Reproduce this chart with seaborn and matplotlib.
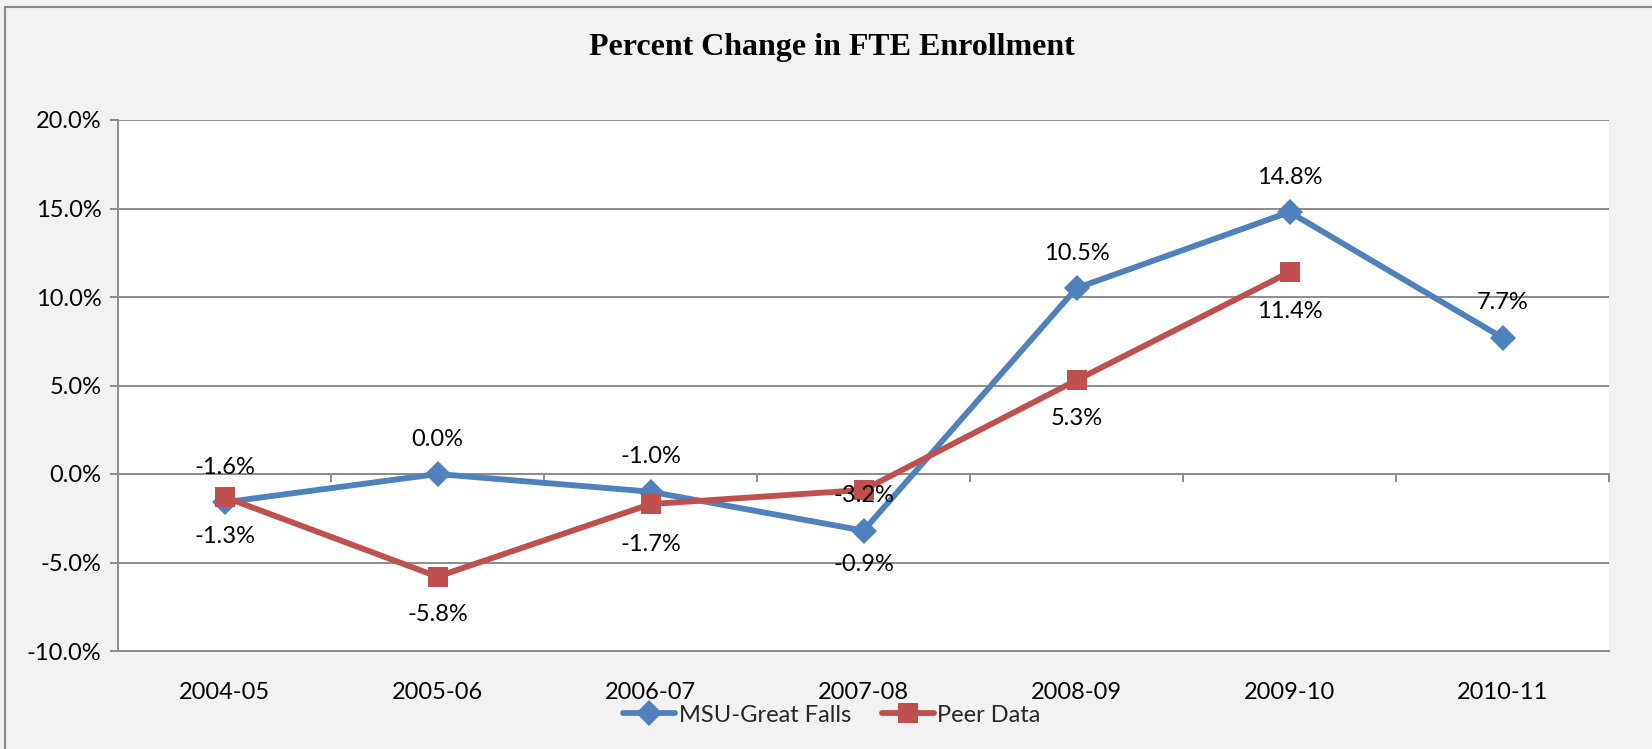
import matplotlib
matplotlib.use("Agg")
import matplotlib.pyplot as plt
from matplotlib.patches import Rectangle
from matplotlib.ticker import FuncFormatter
import pandas as pd
import seaborn as sns

years = ["2004-05", "2005-06", "2006-07", "2007-08", "2008-09", "2009-10", "2010-11"]
msu_great_falls = [-1.6, 0.0, -1.0, -3.2, 10.5, 14.8, 7.7]
peer_data = [-1.3, -5.8, -1.7, -0.9, 5.3, 11.4]
series_names = ["MSU-Great Falls", "Peer Data"]
y_ticks = [-10, -5, 0, 5, 10, 15, 20]

BLUE = "#4F81BD"
RED = "#C0504D"
GRID = "#8C8C8C"
BG = "#F2F2F2"
FS = 17

rows = [(y, series_names[0], v) for y, v in zip(years, msu_great_falls)]
rows += [(y, series_names[1], v) for y, v in zip(years, peer_data)]
df = pd.DataFrame(rows, columns=["Year", "Series", "Change"])

sns.set_theme(style="white")
plt.rcParams["font.family"] = ["Lato", "DejaVu Sans"]

fig = plt.figure(figsize=(16.52, 7.49), dpi=100, facecolor=BG)
ax = fig.add_axes([118 / 1652, 1 - 651 / 749, (1609 - 118) / 1652, (651 - 120) / 749])
ax.set_facecolor("white")

sns.lineplot(
    data=df, x="Year", y="Change", hue="Series", style="Series",
    hue_order=series_names, style_order=series_names,
    palette={series_names[0]: BLUE, series_names[1]: RED},
    markers={series_names[0]: "D", series_names[1]: "s"},
    dashes=False, sort=False, linewidth=4.2, markersize=13,
    markeredgewidth=0, ax=ax, legend=False, zorder=3,
)
for ln, ms in zip(ax.lines[:2], [13, 15]):
    ln.set_markersize(ms)
series_lines = list(ax.lines[:2])

# axes limits, grid and spines
ax.set_xlim(-0.5, len(years) - 0.5)
ax.set_ylim(y_ticks[0], y_ticks[-1])
ax.set_yticks(y_ticks)
ax.yaxis.set_major_formatter(FuncFormatter(lambda v, _: f"{v:.1f}%"))
ax.grid(axis="y", color=GRID, linewidth=1.4)
ax.set_axisbelow(True)
for side in ["top", "right"]:
    ax.spines[side].set_visible(False)
ax.spines["left"].set_color(GRID)
ax.spines["left"].set_linewidth(1.4)
ax.spines["bottom"].set_color(GRID)
ax.spines["bottom"].set_linewidth(1.4)
ax.tick_params(axis="y", which="major", length=6, width=1.4, color=GRID,
               labelsize=FS, labelcolor="black", pad=6, left=True)
ax.tick_params(axis="x", which="major", length=0, labelsize=FS,
               labelcolor="black", pad=22)
ax.set_xlabel("")
ax.set_ylabel("")

# category axis crossing at zero, with tick marks between categories
zero_frac = (0 - y_ticks[0]) / (y_ticks[-1] - y_ticks[0])
cat_axis = ax.secondary_xaxis(zero_frac)
cat_axis.set_xticks([i - 0.5 for i in range(len(years) + 1)])
cat_axis.set_xticklabels([])
cat_axis.tick_params(axis="x", direction="out", length=6, width=1.4, color=GRID)
cat_axis.spines["bottom"].set_color(GRID)
cat_axis.spines["bottom"].set_linewidth(1.4)

# value labels: MSU above its points, peers below
px = 72 / 100
blue_offsets = [-35] * len(msu_great_falls)
red_offsets = [39, 38, 40, 75, 38, 39]
for i, (v, off) in enumerate(zip(msu_great_falls, blue_offsets)):
    ax.annotate(f"{v:.1f}%", (i, v), xytext=(0, -off * px), textcoords="offset points",
                ha="center", va="center", fontsize=FS, color="black", zorder=5)
for i, (v, off) in enumerate(zip(peer_data, red_offsets)):
    ax.annotate(f"{v:.1f}%", (i, v), xytext=(0, -off * px), textcoords="offset points",
                ha="center", va="center", fontsize=FS, color="black", zorder=5)

fig.text(832 / 1652, 1 - 47 / 749, "Percent Change in FTE Enrollment",
         family="Liberation Serif", fontweight="bold", fontsize=23,
         ha="center", va="center", color="black")

fig.legend(series_lines, series_names, loc="center", ncol=2,
           bbox_to_anchor=(832 / 1652, 1 - 715 / 749), frameon=False,
           fontsize=FS, handlelength=2.2, handletextpad=0.15, columnspacing=1.3)

# chart frame
fig.add_artist(Rectangle((5 / 1652, -0.1), 1.2, 1.1 - 7 / 749, transform=fig.transFigure,
                         fill=False, edgecolor="#888888", linewidth=1.5))

fig.savefig("out.png", dpi=100, facecolor=BG)
